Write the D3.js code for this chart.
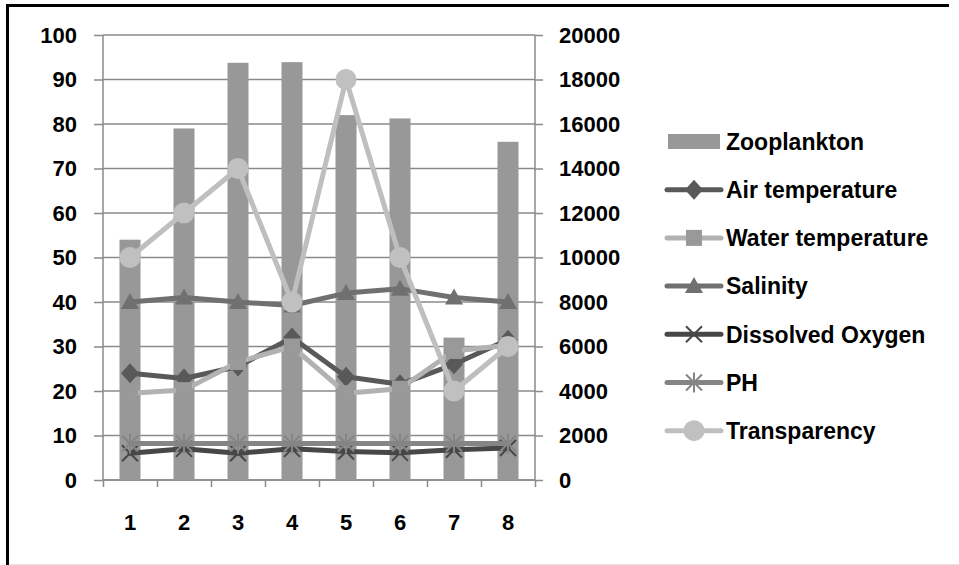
<!DOCTYPE html>
<html>
<head>
<meta charset="utf-8">
<script src="https://cdn.jsdelivr.net/npm/d3@7"></script>
<style>
  html, body { margin: 0; padding: 0; background: #fff; }
  svg { display: block; }
  text { font-family: "Liberation Sans", Arial, sans-serif; font-weight: bold; fill: #000; }
</style>
</head>
<body>
<svg id="chart" width="959" height="565"></svg>
<script>
// Sampling stations
const categories = ["1", "2", "3", "4", "5", "6", "7", "8"];

// Zooplankton abundance (secondary axis)
const zooplankton = [10800, 15800, 18750, 18780, 16400, 16250, 6400, 15200];

// Environmental parameters (primary axis)
const airTemperature   = [24, 22.8, 25.5, 32, 23.2, 21.5, 26, 31.5];
const waterTemperature = [19.5, 20.2, 26.5, 30, 19.5, 20.5, 29, 30.3];
const salinity         = [40, 41, 40, 39.2, 42, 43, 41, 40];
const dissolvedOxygen  = [6, 7, 6, 7, 6.4, 6.1, 6.8, 7.2];
const ph               = [8.2, 8.2, 8.2, 8.2, 8.2, 8.2, 8.2, 8.2];
const transparency     = [50, 60, 70, 40, 90, 50, 20, 30];

const leftTicks  = [0, 10, 20, 30, 40, 50, 60, 70, 80, 90, 100];
const rightTicks = [0, 2000, 4000, 6000, 8000, 10000, 12000, 14000, 16000, 18000, 20000];

const lineSeries = [
  { name: "Air temperature",   values: airTemperature,   line: "#595959", fill: "#595959", marker: "diamond" },
  { name: "Water temperature", values: waterTemperature, line: "#b2b2b2", fill: "#999999", marker: "square" },
  { name: "Salinity",          values: salinity,         line: "#707070", fill: "#707070", marker: "triangle" },
  { name: "Dissolved Oxygen",  values: dissolvedOxygen,  line: "#474747", fill: "#474747", marker: "x" },
  { name: "PH",                values: ph,               line: "#858585", fill: "#858585", marker: "star" },
  { name: "Transparency",      values: transparency,     line: "#bfbfbf", fill: "#c0c0c0", marker: "circle" }
];
const barColor = "#989898";
const gridColor = "#8a8a8a";

const svg = d3.select("#chart");
const plot = { left: 103, right: 535, top: 35, bottom: 480 };

const x = d3.scaleBand().domain(categories).range([plot.left, plot.right]);
const yL = d3.scaleLinear().domain([0, 100]).range([plot.bottom, plot.top]);
const yR = d3.scaleLinear().domain([0, 20000]).range([plot.bottom, plot.top]);

// Outer frame (left and top edges)
svg.append("line").attr("x1", 7.5).attr("x2", 7.5).attr("y1", 4).attr("y2", 565).attr("stroke", "#000").attr("stroke-width", 3);
svg.append("line").attr("x1", 6).attr("x2", 949).attr("y1", 5.5).attr("y2", 5.5).attr("stroke", "#000").attr("stroke-width", 3);
svg.append("line").attr("x1", 9).attr("x2", 959).attr("y1", 564.5).attr("y2", 564.5).attr("stroke", "#e6e6e6").attr("stroke-width", 1);

// Horizontal gridlines
svg.append("g").selectAll("line").data(leftTicks).join("line")
  .attr("x1", plot.left).attr("x2", plot.right)
  .attr("y1", d => yL(d)).attr("y2", d => yL(d))
  .attr("stroke", gridColor).attr("stroke-width", 1.5);

// Left axis
const axL = svg.append("g").attr("transform", `translate(${plot.left},0)`)
  .call(d3.axisLeft(yL).tickValues(leftTicks).tickSize(9).tickPadding(17).tickFormat(d3.format("d")));
// Right axis
const axR = svg.append("g").attr("transform", `translate(${plot.right},0)`)
  .call(d3.axisRight(yR).tickValues(rightTicks).tickSize(8).tickPadding(16).tickFormat(d3.format("d")));
// Bottom axis: ticks at category boundaries
const boundaries = d3.range(categories.length + 1).map(i => plot.left + i * x.bandwidth());
const axB = svg.append("g").attr("transform", `translate(0,${plot.bottom})`)
  .call(d3.axisBottom(d3.scaleLinear().domain([plot.left, plot.right]).range([plot.left, plot.right]))
    .tickValues(boundaries).tickSize(7).tickFormat(""));

[axL, axR, axB].forEach(g => {
  g.select(".domain").attr("stroke", gridColor).attr("stroke-width", 1.5);
  g.selectAll(".tick line").attr("stroke", gridColor).attr("stroke-width", 1.5);
  g.selectAll("text").attr("font-size", 22).attr("font-family", null).attr("fill", "#000");
});
axB.select(".domain").attr("d", `M${plot.left},0H${plot.right}`);
axL.select(".domain").attr("d", `M0,${plot.top}V${plot.bottom}`);
axR.select(".domain").attr("d", `M0,${plot.top}V${plot.bottom}`);

// Category labels
svg.append("g").selectAll("text").data(categories).join("text")
  .attr("x", d => x(d) + x.bandwidth() / 2).attr("y", 530)
  .attr("text-anchor", "middle").attr("font-size", 22).text(d => d);

// Zooplankton bars
const barW = 21;
svg.append("g").selectAll("rect").data(zooplankton).join("rect")
  .attr("x", (d, i) => x(categories[i]) + x.bandwidth() / 2 - barW / 2)
  .attr("width", barW)
  .attr("y", d => yR(d))
  .attr("height", d => plot.bottom - yR(d))
  .attr("fill", barColor);

// Marker drawing
function drawMarker(g, type, color) {
  switch (type) {
    case "diamond":
      g.append("path").attr("d", "M0,-10L9,0L0,10L-9,0Z").attr("fill", color); break;
    case "square":
      g.append("rect").attr("x", -8).attr("y", -8).attr("width", 16).attr("height", 16).attr("fill", color); break;
    case "triangle":
      g.append("path").attr("d", "M0,-9L9,7L-9,7Z").attr("fill", color); break;
    case "circle":
      g.append("circle").attr("r", 10.5).attr("fill", color); break;
    case "x":
      g.append("path").attr("d", "M-8,-8L8,8M-8,8L8,-8").attr("stroke", color).attr("stroke-width", 2).attr("fill", "none"); break;
    case "star":
      g.append("path").attr("d", "M-8,-8L8,8M-8,8L8,-8M0,-10V10").attr("stroke", color).attr("stroke-width", 2).attr("fill", "none"); break;
  }
}

const lineGen = d3.line()
  .x((d, i) => x(categories[i]) + x.bandwidth() / 2)
  .y(d => yL(d));

lineSeries.forEach(s => {
  const g = svg.append("g");
  g.append("path").attr("d", lineGen(s.values))
    .attr("fill", "none").attr("stroke", s.line).attr("stroke-width", 5)
    .attr("stroke-linejoin", "round").attr("stroke-linecap", "round");
  s.values.forEach((v, i) => {
    const m = g.append("g").attr("transform", `translate(${x(categories[i]) + x.bandwidth() / 2},${yL(v)})`);
    drawMarker(m, s.marker, s.fill);
  });
});

// Legend
const legend = svg.append("g");
const lgX0 = 667, lgX1 = 721, lgMid = 694, lgText = 726;
const rows = [{ name: "Zooplankton", bar: true }].concat(lineSeries);
rows.forEach((r, i) => {
  const cy = 141.5 + i * 48.2;
  const g = legend.append("g");
  if (r.bar) {
    g.append("rect").attr("x", 668).attr("y", cy - 7.5).attr("width", 52).attr("height", 15).attr("fill", barColor);
  } else {
    g.append("line").attr("x1", lgX0).attr("x2", lgX1).attr("y1", cy).attr("y2", cy)
      .attr("stroke", r.line).attr("stroke-width", 5).attr("stroke-linecap", "round");
    const m = g.append("g").attr("transform", `translate(${lgMid},${cy})`);
    drawMarker(m, r.marker, r.fill);
  }
  g.append("text").attr("x", lgText).attr("y", cy).attr("dy", "0.36em")
    .attr("font-size", 23).text(r.name);
});
</script>
</body>
</html>
